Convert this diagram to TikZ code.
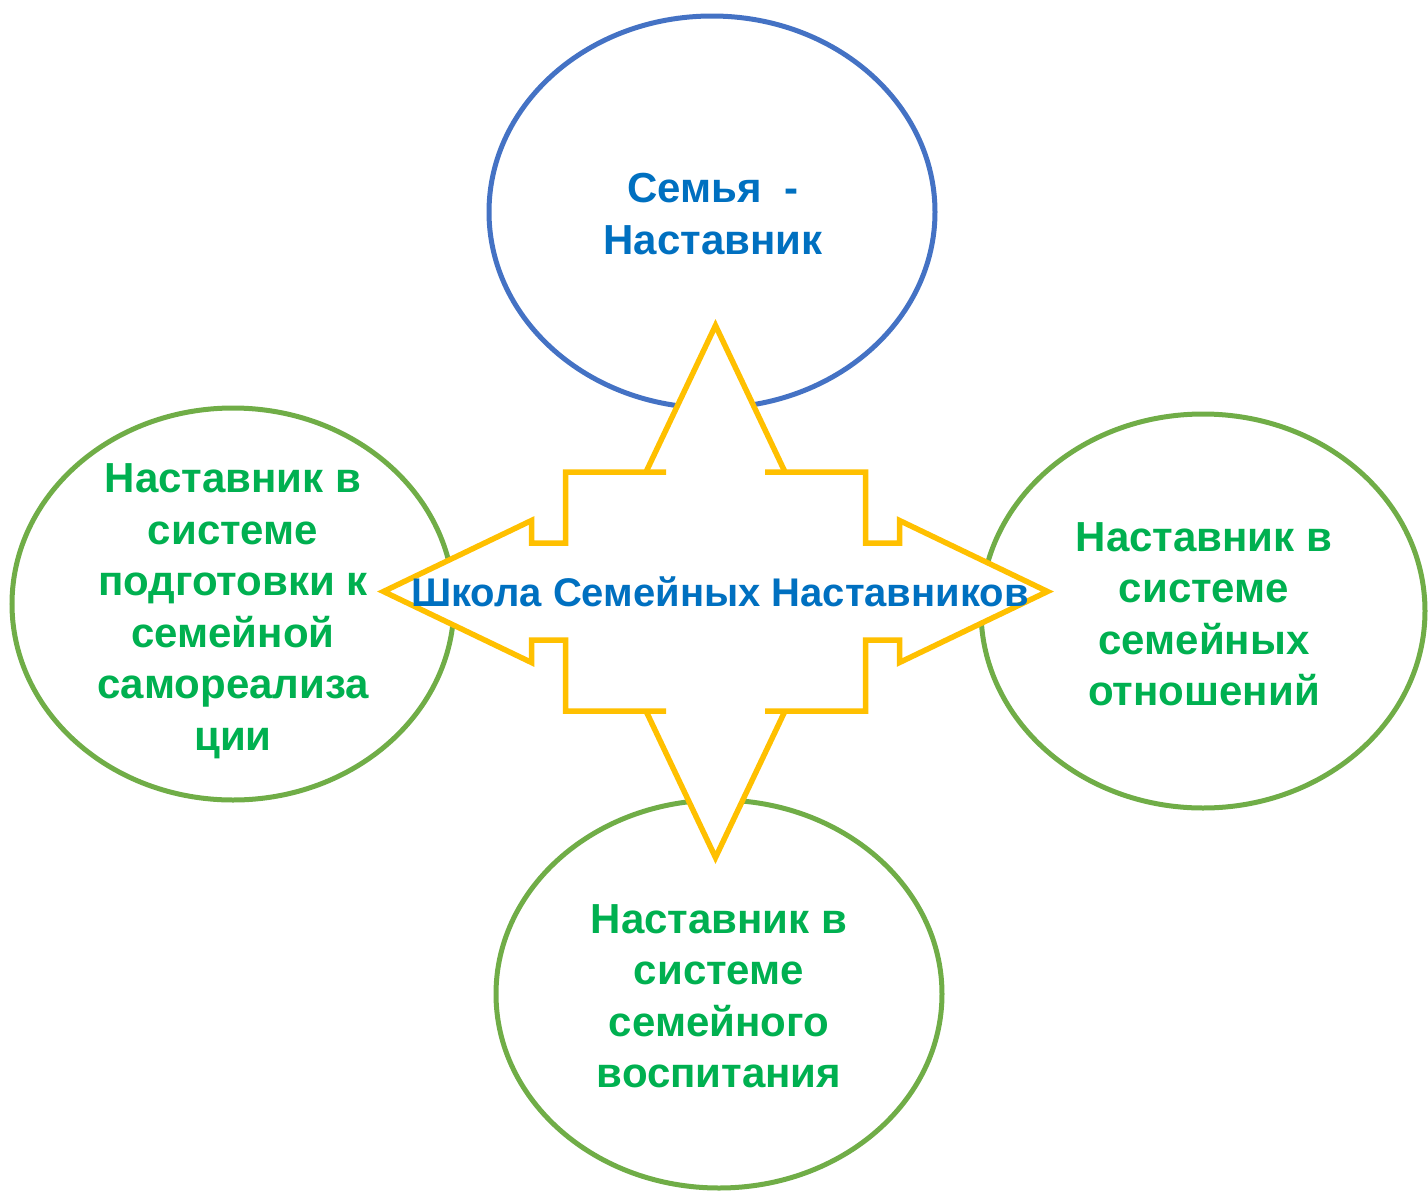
\documentclass[tikz,border=0pt]{standalone}
\usepackage{fontspec}
\setmainfont{Liberation Sans}
\usetikzlibrary{shapes.geometric}
\definecolor{ellblue}{HTML}{4472C4}
\definecolor{ellgreen}{HTML}{70AD47}
\definecolor{txtblue}{HTML}{0070C0}
\definecolor{txtgreen}{HTML}{00B050}
\definecolor{arrowyellow}{HTML}{FFC000}
\tikzset{
  bubble/.style={ellipse, draw, line width=5pt, inner sep=0pt},
  bubbletext/.style={align=center, inner sep=0pt, font=\fontsize{42}{51.5}\selectfont\bfseries},
  arrowline/.style={draw=arrowyellow, line width=5.5pt, line join=miter, line cap=butt},
}
\begin{document}
\begin{tikzpicture}[x=1pt,y=-1pt]
\useasboundingbox (0,0) rectangle (1428,1192);
% ellipses
\node[bubble, draw=ellblue, minimum width=446pt, minimum height=392pt] (eT) at (712,212) {};
\node[bubble, draw=ellgreen, minimum width=442pt, minimum height=392pt] (eL) at (233,604) {};
\node[bubble, draw=ellgreen, minimum width=444pt, minimum height=394pt] (eR) at (1203,611) {};
\node[bubble, draw=ellgreen, minimum width=446pt, minimum height=388pt] (eB) at (719,994) {};
% central four-way arrow
\begin{scope}[shift={(715.5,591.5)}]
\fill[white] (0,-266) -- (69.5,-119.5) -- (150,-119.5) -- (150,-48.5) -- (184,-48.5) -- (184,-71) -- (332,0)
  -- (184,71) -- (184,48.5) -- (150,48.5) -- (150,119.5) -- (69.5,119.5) -- (0,266) -- (-69.5,119.5)
  -- (-150,119.5) -- (-150,48.5) -- (-184,48.5) -- (-184,71) -- (-332,0) -- (-184,-71) -- (-184,-48.5)
  -- (-150,-48.5) -- (-150,-119.5) -- (-69.5,-119.5) -- cycle;
\draw[arrowline] (-49.5,-119.5) -- (-150,-119.5) -- (-150,-48.5) -- (-184,-48.5) -- (-184,-71) -- (-332,0)
  -- (-184,71) -- (-184,48.5) -- (-150,48.5) -- (-150,119.5) -- (-49.5,119.5);
\draw[arrowline] (49.5,-119.5) -- (150,-119.5) -- (150,-48.5) -- (184,-48.5) -- (184,-71) -- (332,0)
  -- (184,71) -- (184,48.5) -- (150,48.5) -- (150,119.5) -- (49.5,119.5);
\draw[arrowline] (-69.5,-119.5) -- (0,-266) -- (69.5,-119.5);
\draw[arrowline] (-69.5,119.5) -- (0,266) -- (69.5,119.5);
\end{scope}
% texts
\node[bubbletext, text=txtblue] (tT) at (713,214) {Семья\ \ -\\Наставник};
\node[bubbletext, text=txtgreen] (tL) at (233,611) {Наставник в\\системе\\подготовки к\\семейной\\самореализа\\ции};
\node[bubbletext, text=txtgreen] (tR) at (1204,614) {Наставник в\\системе\\семейных\\отношений};
\node[bubbletext, text=txtgreen] (tB) at (719,996) {Наставник в\\системе\\семейного\\воспитания};
\node[inner sep=0pt, text=txtblue, font=\fontsize{40}{44}\selectfont\bfseries] (tC) at (720,592) {Школа Семейных Наставников};
\end{tikzpicture}
\end{document}
